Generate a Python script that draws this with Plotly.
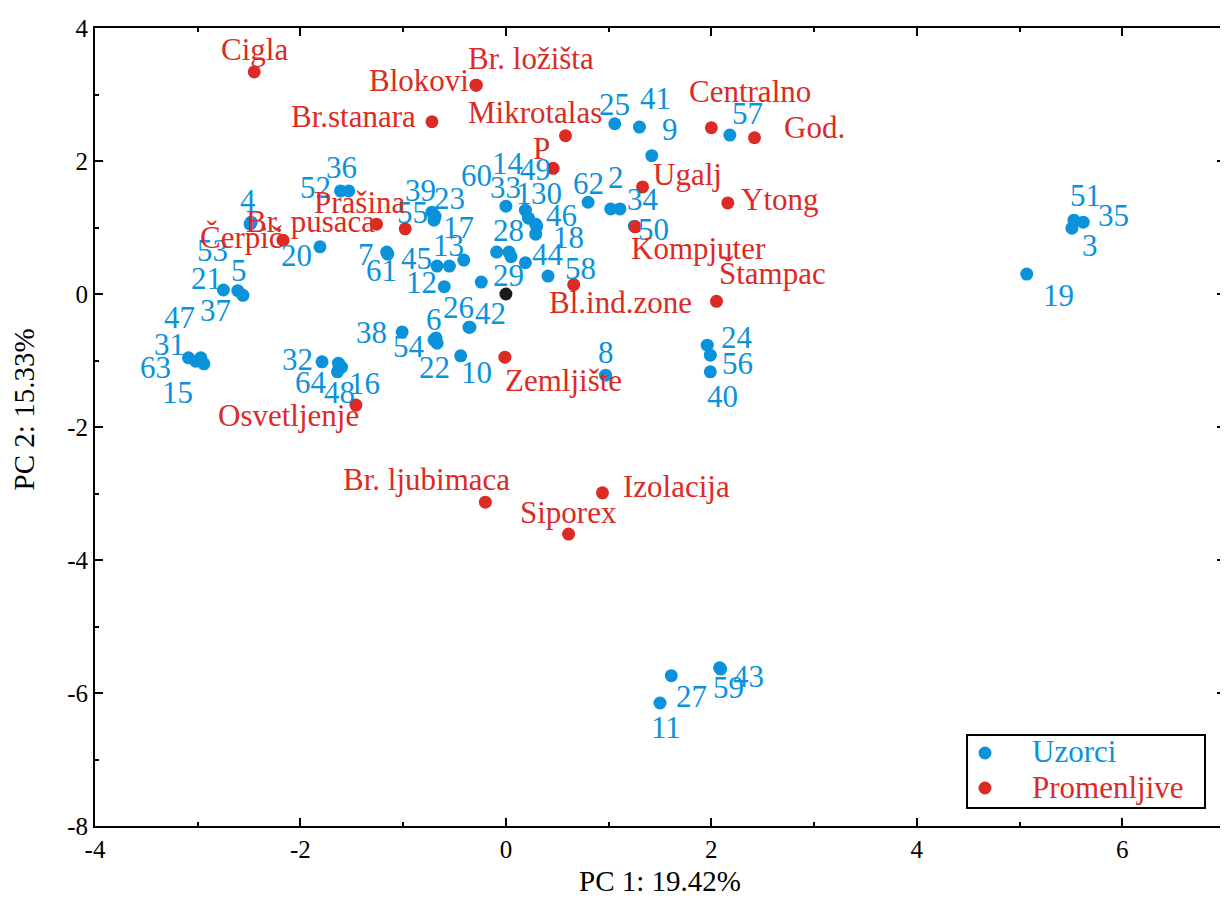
import plotly.graph_objects as go

# PCA biplot: samples (Uzorci) and variables (Promenljive)
samples = ["4", "53", "52", "36", "20", "7", "61", "21", "5", "37",
           "31", "47", "63", "15", "32", "16", "48", "64", "38", "54",
           "6", "22", "10", "26", "42", "39", "23", "55", "17", "45",
           "13", "12", "29", "33", "14", "1", "30", "46", "18", "60",
           "28", "49", "44", "58", "25", "41", "9", "57", "62", "2",
           "34", "50", "24", "56", "40", "8", "51", "35", "3", "19",
           "11", "27", "59", "43"]
pc1_samples = [-2.48, -2.49, -1.61, -1.53, -1.81, -1.16, -1.15, -2.75, -2.61, -2.56,
               -3.09, -2.97, -3.02, -2.94, -1.79, -1.63, -1.60, -1.64, -1.01, -0.70,
               -0.68, -0.67, -0.44, -0.36, -0.35, -0.72, -0.69, -0.70, -0.41, -0.67,
               -0.55, -0.60, -0.24, 0.00, 0.19, 0.22, 0.29, 0.30, 0.29, -0.09,
               0.03, 0.05, 0.19, 0.41, 1.06, 1.30, 1.42, 2.18, 0.80, 1.02,
               1.11, 1.25, 1.96, 1.99, 1.99, 0.97, 5.53, 5.62, 5.51, 5.07,
               1.50, 1.61, 2.08, 2.09]
pc2_samples = [1.08, 1.05, 1.55, 1.55, 0.71, 0.63, 0.60, 0.06, 0.05, -0.02,
               -0.96, -0.96, -1.01, -1.05, -1.02, -1.04, -1.10, -1.17, -0.57, -0.69,
               -0.66, -0.74, -0.93, -0.50, -0.50, 1.23, 1.17, 1.11, 0.51, 0.42,
               0.42, 0.11, 0.18, 1.32, 1.26, 1.14, 1.05, 1.02, 0.90, 0.63,
               0.63, 0.56, 0.47, 0.27, 2.56, 2.51, 2.08, 2.39, 1.38, 1.28,
               1.28, 1.02, -0.77, -0.92, -1.17, -1.22, 1.11, 1.08, 0.99, 0.30,
               -6.15, -5.74, -5.62, -5.64]

variables = ["Cigla", "Blokovi", "Br. ložišta", "Br.stanara", "Mikrotalas", "P",
             "Centralno", "God.", "Ugalj", "Ytong", "Kompjuter", "Štampac",
             "Bl.ind.zone", "Zemljište", "Osvetljenje", "Br. ljubimaca",
             "Izolacija", "Siporex", "Čerpič", "Br. pusaca", "Prašina"]
pc1_vars = [-2.45, -0.29, -0.29, -0.72, 0.58, 0.46, 2.00, 2.42, 1.33, 2.16, 1.26,
            2.05, 0.66, -0.01, -1.46, -0.20, 0.94, 0.61, -2.17, -1.26, -0.98]
pc2_vars = [3.34, 3.14, 3.14, 2.59, 2.38, 1.89, 2.50, 2.35, 1.61, 1.37, 1.01,
            -0.11, 0.14, -0.95, -1.67, -3.13, -2.99, -3.61, 0.81, 1.05, 0.98]

x_ticks = [-4, -2, 0, 2, 4, 6]
x_tick_labels = ["-4", "-2", "0", "2", "4", "6"]
y_ticks = [-8, -6, -4, -2, 0, 2, 4]
y_tick_labels = ["-8", "-6", "-4", "-2", "0", "2", "4"]

# label offsets in pixels (dx right, dy down)
sample_dx = [-3, -38, -25, -7, -23, -21, -6, -17, 1, -27,
             -19, -21, -40, -26, -25, 26, -2, -26, -31, -25,
             -2, -3, 16, -10, 21, -11, 14, -22, -5, -21,
             -1, -23, 27, 0, -17, -5, 11, 25, 33, -20,
             0, 24, 23, 32, 0, 16, 18, 18, 0, 5,
             23, 19, 30, 27, 12, 0, 12, 30, 18, 32,
             6, 20, 9, 28]
sample_dy = [-22, 26, -3, -23, 9, 2, 16, -12, -20, 15,
             -13, -40, 6, 29, -2, 20, 25, 11, 1, 7,
             -18, 24, 17, -20, -14, -22, -18, -8, -33, -8,
             -21, -4, -7, -19, -47, -25, -31, -11, 3, -77,
             -22, -87, -8, -8, -19, -29, -26, -22, -19, -31,
             -9, 3, -8, 8, 25, -23, -25, -7, 17, 21,
             25, 21, 20, 7]
var_dx = [0, -57, 55, -78, -30, -12, 39, 60, 45, 52, 63, 56, 47, 59, -67, -59, 74, 0, -41, -66, -45]
var_dy = [-22, -5, -27, -5, -23, -20, -36, -10, -12, -3, 22, -28, 18, 23, 10, -23, -6, -22, -3, -3, -26]

BLUE = "#0A92DA"
RED = "#DC2A24"
FONT = "Liberation Serif"
LABEL_SIZE = 31

fig = go.Figure()
fig.add_trace(go.Scatter(x=pc1_samples, y=pc2_samples, mode="markers",
                         marker=dict(color=BLUE, size=13), name="Uzorci", showlegend=False))
fig.add_trace(go.Scatter(x=pc1_vars, y=pc2_vars, mode="markers",
                         marker=dict(color=RED, size=13), name="Promenljive", showlegend=False))
fig.add_trace(go.Scatter(x=[0], y=[0], mode="markers",
                         marker=dict(color="#1a1a1a", size=13), showlegend=False))

for i, s in enumerate(samples):
    fig.add_annotation(x=pc1_samples[i], y=pc2_samples[i], text=s, showarrow=False,
                       xshift=sample_dx[i], yshift=-sample_dy[i],
                       font=dict(family=FONT, size=LABEL_SIZE, color=BLUE))
for i, v in enumerate(variables):
    fig.add_annotation(x=pc1_vars[i], y=pc2_vars[i], text=v, showarrow=False,
                       xshift=var_dx[i], yshift=-var_dy[i],
                       font=dict(family=FONT, size=LABEL_SIZE, color=RED))

# legend box drawn by hand (paper coords)
fig.add_shape(type="rect", xref="paper", yref="paper", x0=0.7717, x1=0.9823, y0=0.0226, y1=0.114,
              line=dict(color="black", width=2), fillcolor="white", layer="above")
for yy, name, col in [(0.0915, "Uzorci", BLUE), (0.0476, "Promenljive", RED)]:
    fig.add_shape(type="circle", xref="paper", yref="paper", xsizemode="pixel", ysizemode="pixel",
                  xanchor=0.7876, yanchor=yy, x0=-6.5, x1=6.5, y0=-6.5, y1=6.5,
                  line=dict(width=0), fillcolor=col, layer="above")
    fig.add_annotation(xref="paper", yref="paper", x=0.8274, y=yy, text=name, showarrow=False,
                       xanchor="left", yanchor="middle", yshift=1,
                       font=dict(family=FONT, size=LABEL_SIZE, color=col))

# y axis title placed a bit above centre, as in the original
fig.add_annotation(xref="paper", yref="paper", x=-0.062, y=0.522, text="PC 2: 15.33%",
                   textangle=-90, showarrow=False, xanchor="center", yanchor="middle",
                   font=dict(family=FONT, size=29, color="black"))

axis_style = dict(showline=True, linecolor="black", linewidth=2, mirror="ticks",
                  ticks="inside", ticklen=8, tickwidth=2, tickcolor="black",
                  showgrid=False, zeroline=False, automargin=False,
                  tickfont=dict(family=FONT, size=25, color="black"),
                  minor=dict(ticks="inside", ticklen=4, tickwidth=1.5, tickcolor="black", dtick=1))

fig.update_xaxes(range=[-4, 7], tickvals=x_ticks, ticktext=x_tick_labels,
                 title=dict(text="PC 1: 19.42%", font=dict(family=FONT, size=29, color="black"), standoff=9),
                 **axis_style)
fig.update_yaxes(range=[-8, 4], tickvals=y_ticks, ticktext=y_tick_labels, **axis_style)

# the page adds an 8px body margin, so the figure is sized to fit the 1228x900 window
fig.update_layout(width=1220, height=892, plot_bgcolor="white", paper_bgcolor="white",
                  margin=dict(l=87, r=3, t=20, b=74), showlegend=False)

fig.write_html("out.html")
